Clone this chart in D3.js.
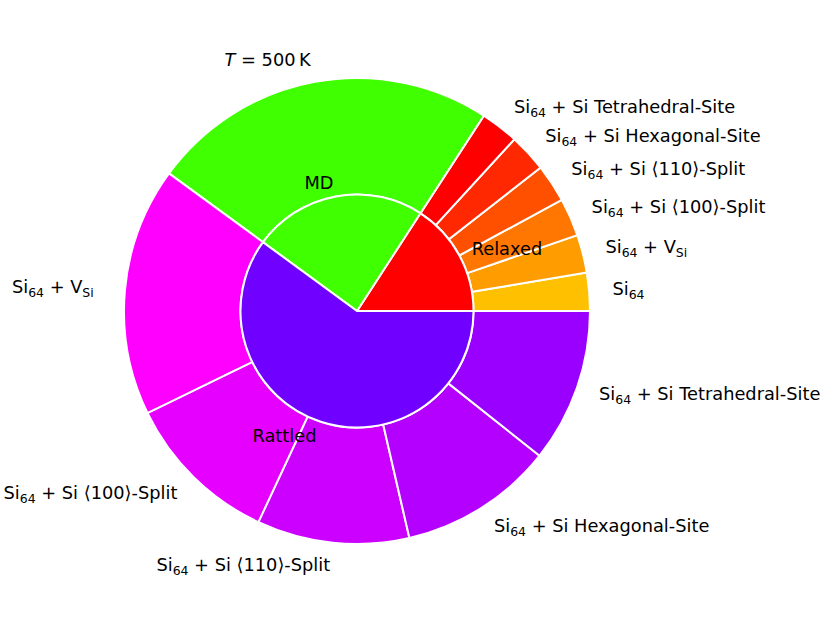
<!DOCTYPE html>
<html>
<head>
<meta charset="utf-8">
<script src="https://cdn.jsdelivr.net/npm/d3@7"></script>
<style>
  html, body { margin: 0; padding: 0; background: #fff; }
  svg text { font-family: "DejaVu Sans", sans-serif; fill: #000; }
</style>
</head>
<body>
<svg id="chart"></svg>
<script>
// ── DATA (angles, in degrees of the full turn) ───────────────────────────────
const outerLabels = [
  "Si_{64}",
  "Si_{64} + V_{Si}",
  "Si_{64} + Si \u27E8100\u27E9-Split",
  "Si_{64} + Si \u27E8110\u27E9-Split",
  "Si_{64} + Si Hexagonal-Site",
  "Si_{64} + Si Tetrahedral-Site",
  "*T* = 500\u2009K",
  "Si_{64} + V_{Si}",
  "Si_{64} + Si \u27E8100\u27E9-Split",
  "Si_{64} + Si \u27E8110\u27E9-Split",
  "Si_{64} + Si Hexagonal-Site",
  "Si_{64} + Si Tetrahedral-Site"
];
const outerValues = [9.5, 9.5, 9.5, 9.5, 9.5, 9.5, 86.8, 62.2, 39.0, 38.0, 38.6, 38.4];
const outerColors = [
  "#ffc000", "#ff9c00", "#ff7600", "#ff5000", "#ff2800", "#ff0000",
  "#40ff00",
  "#ff00ff", "#e600ff", "#cc00ff", "#b300ff", "#9900ff"
];

const innerLabels = ["Relaxed", "MD", "Rattled"];
const innerValues = [57.0, 86.8, 216.2];
const innerColors = ["#ff0000", "#40ff00", "#7000ff"];

// ── DIMENSI ──────────────────────────────────────────────────────────────
const W = 830, H = 623;
const cx = 357, cy = 311;
const R = 233;          // outer radius
const r0 = R * 0.5;     // inner pie radius
const FS = 17.8;        // font size px

const svg = d3.select("#chart")
  .attr("width", W)
  .attr("height", H)
  .attr("viewBox", `0 0 ${W} ${H}`);

const g = svg.append("g").attr("transform", `translate(${cx},${cy})`);

// counter-clockwise from 3 o'clock, like matplotlib
const pie = d3.pie().sort(null).startAngle(Math.PI / 2).endAngle(Math.PI / 2 - 2 * Math.PI);

const outerArcs = pie(outerValues);
const innerArcs = pie(innerValues);

const outerArc = d3.arc().innerRadius(r0).outerRadius(R);
const innerArc = d3.arc().innerRadius(0).outerRadius(r0);

g.selectAll(".outer")
  .data(outerArcs)
  .join("path")
    .attr("class", "outer")
    .attr("d", outerArc)
    .attr("fill", (d, i) => outerColors[i])
    .attr("stroke", "#fff")
    .attr("stroke-width", 2)
    .attr("stroke-linejoin", "miter");

g.selectAll(".inner")
  .data(innerArcs)
  .join("path")
    .attr("class", "inner")
    .attr("d", innerArc)
    .attr("fill", (d, i) => innerColors[i])
    .attr("stroke", "#fff")
    .attr("stroke-width", 2);

// ── LABEL ─────────────────────────────────────────────────────────────────
// tiny markup: _{..} = subscript, *..* = italic
function writeLabel(sel, str) {
  const parts = str.split(/(_\{[^}]*\}|\*[^*]*\*)/).filter(s => s.length);
  let down = false;
  parts.forEach(p => {
    const t = sel.append("tspan");
    if (p.startsWith("_{")) {
      t.text(p.slice(2, -1)).style("font-size", "70%").attr("dy", "0.32em");
      down = true;
    } else {
      if (p.startsWith("*")) t.text(p.slice(1, -1)).style("font-style", "italic");
      else t.text(p);
      if (down) { t.attr("dy", (-0.32 * 0.7) + "em"); down = false; }
    }
  });
}

function placeLabels(arcs, labels, dist, cls) {
  g.selectAll("." + cls)
    .data(arcs)
    .join("text")
      .attr("class", cls)
      .style("font-size", FS + "px")
      .each(function (d, i) {
        const a = (d.startAngle + d.endAngle) / 2;
        const x = Math.sin(a) * dist;
        const y = -Math.cos(a) * dist;
        const right = x >= 0;
        const hasSub = labels[i].includes("_{");
        const endsSub = /\}$/.test(labels[i]);
        const sel = d3.select(this)
          .attr("text-anchor", right ? "start" : "end")
          .attr("x", right ? x : x - (endsSub ? 0.45 * FS : 0))
          .attr("y", y + (hasSub ? 0.27 : 0.37) * FS);
        writeLabel(sel, labels[i]);
      });
}

placeLabels(outerArcs, outerLabels, R * 1.1, "outer-label");
placeLabels(innerArcs, innerLabels, R * 0.56, "inner-label");
</script>
</body>
</html>
